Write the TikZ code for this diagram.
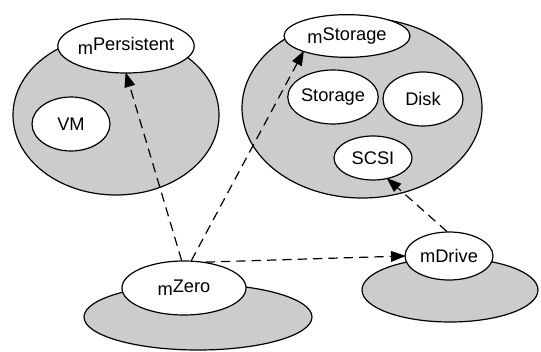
\documentclass[tikz,border=0pt]{standalone}
\usepackage{fontspec}
\setmainfont{Liberation Sans}
\usetikzlibrary{shapes.geometric,arrows.meta}
\definecolor{shade}{HTML}{CCCCCC}
\tikzset{
  grp/.style={ellipse, draw, fill=shade, line width=0.9pt, inner sep=0pt},
  mod/.style={ellipse, draw, fill=white, line width=0.9pt, inner sep=0pt,
    font=\fontsize{13.7}{16}\selectfont},
  dep/.style={dash pattern=on 7pt off 4.5pt, line width=0.9pt,
    -{Triangle[length=11pt,width=8pt]}, shorten >=-1pt},
}
\newcommand{\mlab}[1]{m\raisebox{2.5pt}{#1}}
\begin{document}
\begin{tikzpicture}[x=0.75pt,y=-0.75pt]
\useasboundingbox (0,0) rectangle (541,352);
% group ellipses
\node[grp, minimum width=154.5pt, minimum height=120pt] (gP) at (116,115) {};
\node[grp, minimum width=180pt, minimum height=135pt] (gS) at (362,108) {};
\node[grp, minimum width=171pt, minimum height=49.5pt] (gZ) at (198,317) {};
\node[grp, minimum width=132pt, minimum height=48pt] (gD) at (450,290) {};
% modules
\node[mod, minimum width=94.5pt, minimum height=40.5pt] (mPersistent) at (126,46) {\mlab{Persistent}};
\node[mod, minimum width=58.5pt, minimum height=40.5pt] (VM) at (71,124) {VM};
\node[mod, minimum width=94.5pt, minimum height=32pt] (mStorage) at (347,36) {\mlab{Storage}};
\node[mod, minimum width=60pt, minimum height=40.5pt] (Storage) at (333,97) {Storage};
\node[mod, minimum width=60pt, minimum height=40.5pt] (Disk) at (423,99) {Disk};
\node[mod, minimum width=58.5pt, minimum height=33pt] (SCSI) at (373,158) {SCSI};
\node[mod, minimum width=93pt, minimum height=40.5pt] (mZero) at (184,288) {\mlab{Zero}};
\node[mod, minimum width=66pt, minimum height=36pt] (mDrive) at (449,256) {mDrive};
% dependencies
\draw[dep] (mZero.95) -- (mPersistent.south);
\draw[dep] (mZero.75) -- (mStorage.200);
\draw[dep] (mZero.50) -- (mDrive.west);
\draw[dep] (mDrive.95) -- (SCSI.-55);
\end{tikzpicture}
\end{document}
